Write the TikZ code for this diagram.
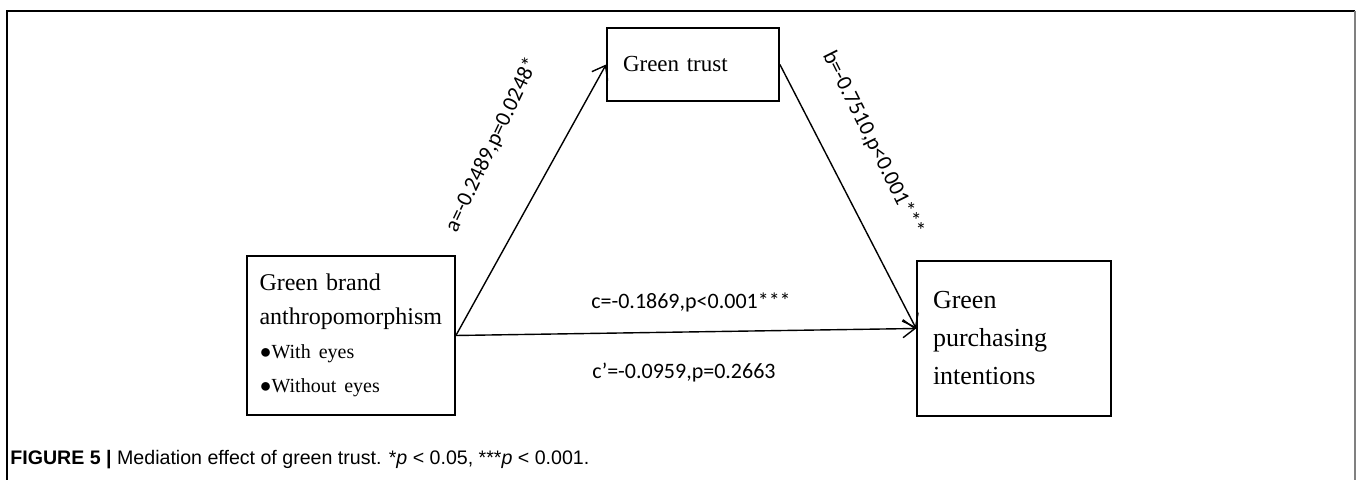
\documentclass[tikz,border=0pt]{standalone}
\usepackage{fontspec}
\setmainfont{Liberation Serif}
\newfontfamily\lblfont{Carlito}
\newfontfamily\capfont{Liberation Sans}
\usetikzlibrary{arrows.meta}
\begin{document}
\begin{tikzpicture}[x=0.5pt,y=-0.5pt,
  boxnode/.style={draw=black, line width=0.9pt, rectangle, align=left, inner ysep=0pt},
  conn/.style={line width=0.7pt, -{Straight Barb[length=6pt,width=9pt,line width=0.7pt]}},
  pathlbl/.style={font=\lblfont\fontsize{11}{13}\selectfont, inner sep=0pt}]
\useasboundingbox (0,0) rectangle (1357,480);
% frame
\draw[line width=0.75pt] (7,480) -- (7,11) -- (1355,11);
\draw[line width=1pt, gray] (1355,11) -- (1355,480);
% boxes
\node[boxnode, minimum width=104pt, minimum height=79.5pt, text width=91.5pt, inner xsep=6.25pt,
  font=\fontsize{12}{17}\selectfont] (gba) at (351,335.5)
  {Green brand\\anthropomorphism\\{\fontsize{10}{16}\selectfont ●With eyes}\\{\fontsize{10}{16}\selectfont ●Without eyes}};
\node[boxnode, minimum width=86pt, minimum height=36.5pt, text width=70pt, inner xsep=8pt,
  font=\fontsize{11.5}{14}\selectfont] (gt) at (693,64.5) {Green trust};
\node[boxnode, minimum width=97pt, minimum height=77.5pt, text width=81pt, inner xsep=8pt,
  font=\fontsize{13}{19}\selectfont] (gpi) at (1014,338.5) {Green\\purchasing\\intentions};
% connectors
\draw[conn] (gba.east) -- (gt.west);
\draw[conn] (gt.east) -- ([yshift=5pt]gpi.west);
\draw[conn] (gba.east) -- ([yshift=5pt]gpi.west);
% labels
\node[pathlbl, rotate=64.5] (la) at (492,145) {a=-0.2489,p=0.0248*};
\node[pathlbl, rotate=-63.5] (lb) at (873,143) {b=-0.7510,p<0.001***};
\node[pathlbl] (lc) at (691,302) {c=-0.1869,p<0.001***};
\node[pathlbl] (lcp) at (684,373) {c’=-0.0959,p=0.2663};
% caption
\node[anchor=base west, inner sep=0pt, font=\capfont\fontsize{9.8}{11}\selectfont] (cap) at (10,465)
  {\textbf{FIGURE 5 |} Mediation effect of green trust. *\textit{p} < 0.05, ***\textit{p} < 0.001.};
\end{tikzpicture}
\end{document}
